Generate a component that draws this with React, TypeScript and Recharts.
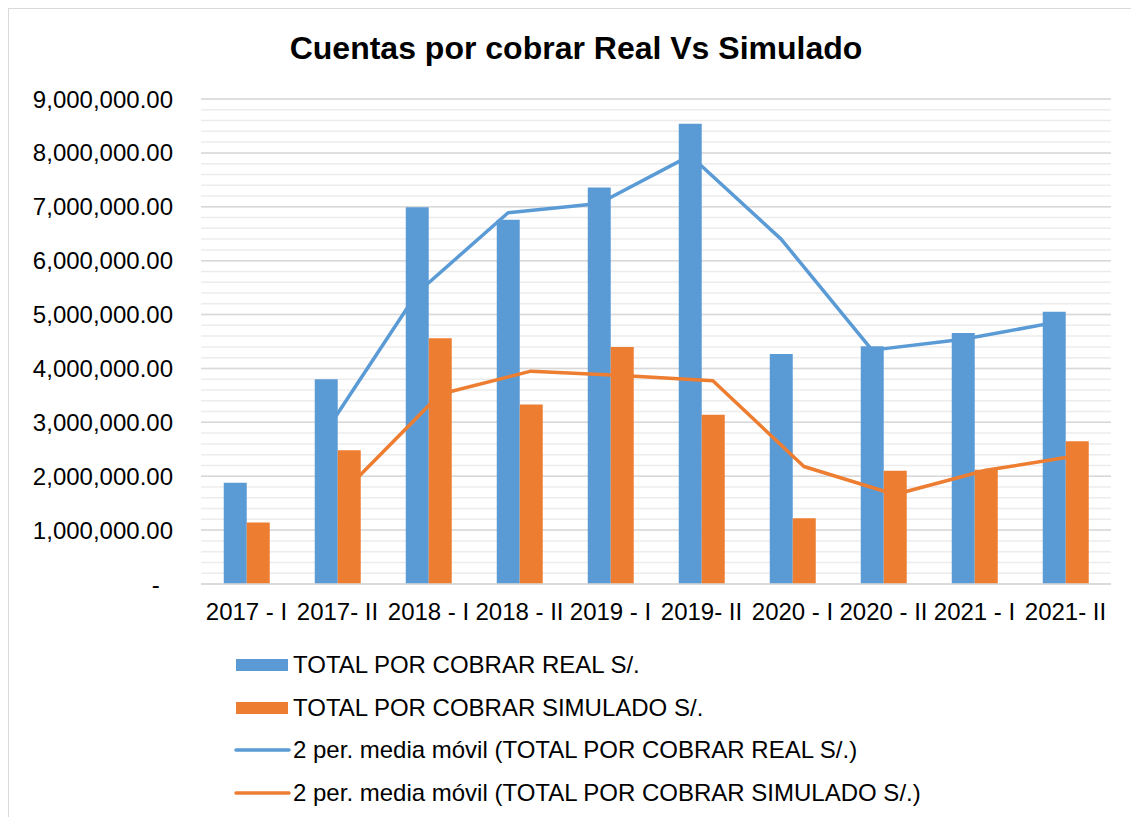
import {
  ComposedChart,
  Bar,
  Line,
  XAxis,
  YAxis,
  CartesianGrid,
  Legend,
} from 'recharts';

// Values (S/.)
const categories = [
  '2017 - I', '2017- II', '2018 - I', '2018 - II', '2019 - I',
  '2019- II', '2020 - I', '2020 - II', '2021 - I', '2021- II',
];
const realValues = [1880000, 3800000, 6990000, 6760000, 7360000, 8540000, 4270000, 4410000, 4660000, 5050000];
const simValues = [1140000, 2480000, 4560000, 3330000, 4400000, 3140000, 1220000, 2100000, 2120000, 2650000];
// 2-period moving averages as drawn (no point for the first period)
const realMovingAvg = [null, 2840000, 5400000, 6890000, 7060000, 7950000, 6400000, 4340000, 4540000, 4850000];
const simMovingAvg = [null, 1810000, 3520000, 3950000, 3870000, 3770000, 2180000, 1660000, 2110000, 2380000];

const yTicks = [0, 1000000, 2000000, 3000000, 4000000, 5000000, 6000000, 7000000, 8000000, 9000000];
const minorStep = 200000;

const legendLabels = [
  'TOTAL POR COBRAR REAL S/.',
  'TOTAL POR COBRAR SIMULADO S/.',
  '2 per. media móvil (TOTAL POR COBRAR REAL S/.)',
  '2 per. media móvil (TOTAL POR COBRAR SIMULADO S/.)',
];

const BLUE = '#5B9BD5';
const ORANGE = '#ED7D31';
const FONT = '"Liberation Sans", Arial, sans-serif';
// excel draws each trendline over the centre of its own bar, not the category centre
const TREND_SHIFT = 11.4;

const chartData = categories.map((name, i) => ({
  name,
  real: realValues[i],
  sim: simValues[i],
  realMA: realMovingAvg[i],
  simMA: simMovingAvg[i],
}));

const minorTicks: number[] = [];
for (let v = 0; v <= yTicks[yTicks.length - 1]; v += minorStep) minorTicks.push(v);

const formatTick = (v: number) =>
  v === 0
    ? '-\u00a0\u00a0'
    : v.toLocaleString('en-US', { minimumFractionDigits: 2, maximumFractionDigits: 2 });

function LegendList() {
  const kinds = [
    { color: BLUE, bar: true },
    { color: ORANGE, bar: true },
    { color: BLUE, bar: false },
    { color: ORANGE, bar: false },
  ];
  return (
    <div style={{ paddingLeft: 225, height: 170, fontFamily: FONT, fontSize: 24, color: '#000' }}>
      {legendLabels.map((label, i) => (
        <div key={label} style={{ display: 'flex', alignItems: 'center', height: 42.5, whiteSpace: 'nowrap' }}>
          <svg width={58} height={14} style={{ marginRight: 1 }}>
            {kinds[i].bar ? (
              <rect x={2} y={1} width={52} height={12} fill={kinds[i].color} />
            ) : (
              <line x1={2} y1={7} x2={55} y2={7} stroke={kinds[i].color} strokeWidth={3.5} strokeLinecap="round" />
            )}
          </svg>
          <span>{label}</span>
        </div>
      ))}
    </div>
  );
}

export default function App() {
  return (
    <div
      style={{
        position: 'absolute',
        left: 8,
        top: 8,
        borderTop: '1px solid #d9d9d9',
        borderLeft: '1px solid #d9d9d9',
        background: '#fff',
      }}
    >
      <div
        style={{
          position: 'absolute',
          left: 567,
          top: 23,
          transform: 'translateX(-50%)',
          whiteSpace: 'nowrap',
          fontFamily: FONT,
          fontWeight: 700,
          fontSize: 32,
          lineHeight: '32px',
          color: '#000',
        }}
      >
        Cuentas por cobrar Real Vs Simulado
      </div>
      <ComposedChart
        width={1122}
        height={808}
        data={chartData}
        margin={{ top: 90, right: 20, bottom: 3, left: 0 }}
        barCategoryGap="25%"
        barGap={0}
      >
        <CartesianGrid vertical={false} stroke="#ececec" strokeWidth={1.5} horizontalValues={minorTicks} />
        <CartesianGrid vertical={false} stroke="#d9d9d9" strokeWidth={1.5} horizontalValues={yTicks} />
        <XAxis
          dataKey="name"
          interval={0}
          height={60}
          tickLine={false}
          tickSize={0}
          tickMargin={19}
          axisLine={{ stroke: '#d9d9d9', strokeWidth: 1.5 }}
          tick={{ fill: '#000', fontSize: 24, fontFamily: FONT }}
        />
        <XAxis
          xAxisId="trendReal"
          dataKey="name"
          hide
          padding={{ left: -TREND_SHIFT, right: TREND_SHIFT }}
        />
        <XAxis
          xAxisId="trendSim"
          dataKey="name"
          hide
          padding={{ left: TREND_SHIFT, right: -TREND_SHIFT }}
        />
        <YAxis
          width={192}
          domain={[0, 9000000]}
          ticks={yTicks}
          interval={0}
          axisLine={false}
          tickLine={false}
          tickSize={0}
          tickMargin={28}
          tickFormatter={formatTick}
          tick={{ fill: '#000', fontSize: 24, fontFamily: FONT }}
        />
        <Bar dataKey="real" name={legendLabels[0]} fill={BLUE} isAnimationActive={false} />
        <Bar dataKey="sim" name={legendLabels[1]} fill={ORANGE} isAnimationActive={false} />
        <Line
          xAxisId="trendReal"
          dataKey="realMA"
          name={legendLabels[2]}
          type="linear"
          stroke={BLUE}
          strokeWidth={3.5}
          strokeLinecap="round"
          strokeLinejoin="round"
          dot={false}
          activeDot={false}
          isAnimationActive={false}
        />
        <Line
          xAxisId="trendSim"
          dataKey="simMA"
          name={legendLabels[3]}
          type="linear"
          stroke={ORANGE}
          strokeWidth={3.5}
          strokeLinecap="round"
          strokeLinejoin="round"
          dot={false}
          activeDot={false}
          isAnimationActive={false}
        />
        <Legend verticalAlign="bottom" align="left" content={() => <LegendList />} />
      </ComposedChart>
    </div>
  );
}
